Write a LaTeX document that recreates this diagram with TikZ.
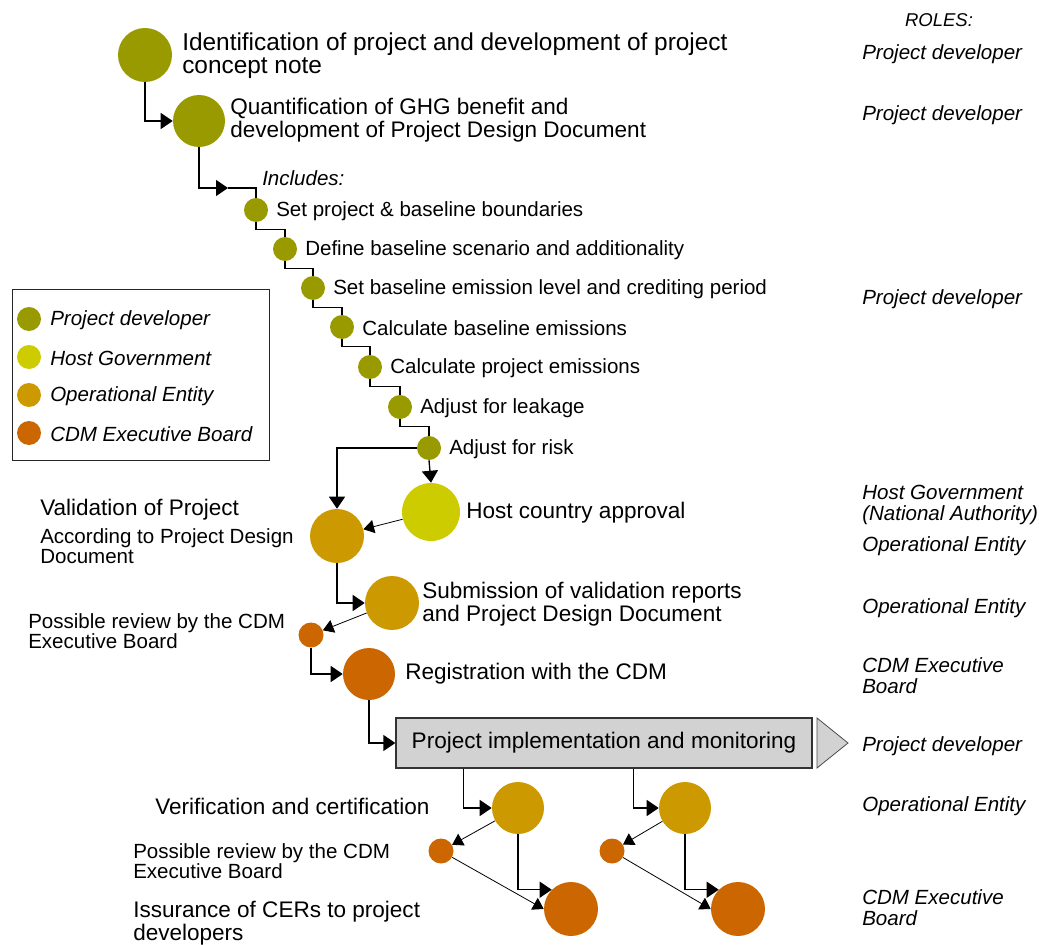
\documentclass[tikz,border=0pt]{standalone}
\usepackage{fontspec}
\setmainfont{Liberation Sans}
\usetikzlibrary{arrows.meta,calc}
\definecolor{pd}{HTML}{999900}
\definecolor{hg}{HTML}{CCCC00}
\definecolor{oe}{HTML}{CC9900}
\definecolor{eb}{HTML}{CC6600}
\definecolor{boxfill}{HTML}{D2D2D2}
\newcommand\fhuge{\fontsize{18.3pt}{17.5pt}\selectfont}
\newcommand\fbig{\fontsize{16.9pt}{17.25pt}\selectfont}
\newcommand\fsmall{\fontsize{15.4pt}{15pt}\selectfont}
\newcommand\frole{\fontsize{15.4pt}{15.75pt}\selectfont\itshape}
\begin{document}
\begin{tikzpicture}[x=0.75pt,y=-0.75pt,
  dot/.style={circle,inner sep=0pt,minimum size=#1},
  lbl/.style={anchor=west,inner sep=0pt,align=left,font=\fbig},
  slbl/.style={anchor=west,inner sep=0pt,align=left,font=\fsmall},
  role/.style={anchor=west,inner sep=0pt,align=left,font=\frole},
  conn/.style={line width=1pt},
  arr/.style={line width=1pt,-{Triangle[length=9pt,width=12pt]}},
  tarr/.style={line width=0.6pt,-{Triangle[length=8pt,width=10pt]}}]
\useasboundingbox (0,0) rectangle (1039,945);

% main circles
\node[dot=40.5pt,fill=pd] (c1) at (145,55) {};
\node[dot=39pt,fill=pd] (c2) at (199,121) {};
\node[lbl,font=\fhuge] (t1) at (182,56) {Identification of project and development of project\\concept note};
\node[lbl] (t2) at (230,120) {Quantification of GHG benefit and\\development of Project Design Document};

% sub steps
\node[slbl,font=\fsmall\itshape] (inc) at (262,178) {Includes:};
\node[dot=18pt,fill=pd] (s1) at (256,210) {};
\node[dot=18pt,fill=pd] (s2) at (285,249) {};
\node[dot=18pt,fill=pd] (s3) at (313,288) {};
\node[dot=18pt,fill=pd] (s4) at (342,327) {};
\node[dot=18pt,fill=pd] (s5) at (370,367) {};
\node[dot=18pt,fill=pd] (s6) at (400,407) {};
\node[dot=18pt,fill=pd] (s7) at (429,448) {};
\node[slbl] (l1) at (276,211) {Set project \& baseline boundaries};
\node[slbl] (l2) at (305,250) {Define baseline scenario and additionality};
\node[slbl] (l3) at (333,289) {Set baseline emission level and crediting period};
\node[slbl] (l4) at (362,328) {Calculate baseline emissions};
\node[slbl] (l5) at (390,368) {Calculate project emissions};
\node[slbl] (l6) at (420,408) {Adjust for leakage};
\node[slbl] (l7) at (449,449) {Adjust for risk};

% validation stage
\node[dot=43.5pt,fill=hg] (host) at (431,512) {};
\node[lbl] (thost) at (466,513) {Host country approval};
\node[dot=40.5pt,fill=oe] (val) at (337,536) {};
\node[lbl] (tval) at (40,510) {Validation of Project};
\node[slbl] (tval2) at (40,546) {According to Project Design\\Document};
\node[dot=40.5pt,fill=oe] (sub) at (392,603) {};
\node[lbl] (tsub) at (422,604) {Submission of validation reports\\and Project Design Document};
\node[dot=18.75pt,fill=eb] (r1) at (311,635) {};
\node[slbl] (tr1) at (28,631) {Possible review by the CDM\\Executive Board};
\node[dot=39pt,fill=eb] (reg) at (369,674) {};
\node[lbl] (treg) at (405,674) {Registration with the CDM};

% implementation box
\node[draw=black!80,line width=1pt,fill=boxfill,minimum width=312pt,minimum height=37.5pt,inner sep=0pt,font=\fbig] (pim) at (604,743) {Project implementation and monitoring};
\draw[fill=boxfill,draw=black!70,line width=0.6pt] (817,718) -- (848,743) -- (817,768) -- cycle;

% verification stage
\node[dot=39pt,fill=oe] (v1) at (518,808) {};
\node[dot=39pt,fill=oe] (v2) at (685,808) {};
\node[dot=18.75pt,fill=eb] (rv1) at (441,851) {};
\node[dot=18.75pt,fill=eb] (rv2) at (612,851) {};
\node[dot=40.5pt,fill=eb] (i1) at (571,909) {};
\node[dot=40.5pt,fill=eb] (i2) at (738,909) {};
\node[lbl] (tver) at (155,806) {Verification and certification};
\node[slbl] (tr2) at (133,861) {Possible review by the CDM\\Executive Board};
\node[lbl] (tiss) at (133,923) {Issurance of CERs to project\\developers};

% legend
\node[draw=black!85,line width=1pt,anchor=north west,minimum width=192.75pt,minimum height=128.25pt,inner sep=0pt] (legend) at (12,289) {};
\node[dot=18pt,fill=pd] (g1) at (29,319) {};
\node[dot=18pt,fill=hg] (g2) at (29,357) {};
\node[dot=18pt,fill=oe] (g3) at (29,395) {};
\node[dot=18pt,fill=eb] (g4) at (29,433) {};
\node[role] (gt1) at (50,320) {Project developer};
\node[role] (gt2) at (50,358) {Host Government};
\node[role] (gt3) at (50,396) {Operational Entity};
\node[role] (gt4) at (50,434) {CDM Executive Board};

% roles column
\node[inner sep=0pt,font=\fontsize{13.9pt}{14pt}\selectfont\itshape] (roles) at (939,20) {ROLES:};
\node[role] (ro1) at (862,54) {Project developer};
\node[role] (ro2) at (862,115) {Project developer};
\node[role] (ro3) at (862,299) {Project developer};
\node[role] (ro4) at (862,505) {Host Government\\(National Authority)};
\node[role] (ro5) at (862,546) {Operational Entity};
\node[role] (ro6) at (862,608) {Operational Entity};
\node[role] (ro7) at (862,676) {CDM Executive\\Board};
\node[role] (ro8) at (862,746) {Project developer};
\node[role] (ro9) at (862,806) {Operational Entity};
\node[role] (ro10) at (862,908) {CDM Executive\\Board};

% connectors
\coordinate (incarr) at (228,188);
\draw[arr] (c1.south) |- (c2.west);
\draw[arr] (c2.south) |- (incarr);
\draw[conn] (incarr) -| (s1.north);
\foreach \a/\b in {s1/s2,s2/s3,s3/s4,s4/s5,s5/s6,s6/s7}
  \draw[conn] (\a.south) -- ++(0,7) -| (\b.north);
\draw[arr] (s7.south) -- (host.north);
\draw[arr] (s7.west) -| (val.north);
\draw[tarr] (host) -- (val);
\draw[arr] (val.south) |- (sub.west);
\draw[tarr] (sub) -- (r1);
\draw[arr] (r1.south) |- (reg.west);
\draw[arr] (reg.south) |- (pim.west);
\draw[arr] ($(pim.south west)+(68,0)$) |- (v1.west);
\draw[arr] ($(pim.south west)+(238,0)$) |- (v2.west);
\draw[tarr] (v1) -- (rv1);
\draw[tarr] (v2) -- (rv2);
\draw[arr] (v1.south) |- (i1.135);
\draw[arr] (v2.south) |- (i2.135);
\draw[tarr] (rv1) -- (i1.west);
\draw[tarr] (rv2) -- (i2.west);
\end{tikzpicture}
\end{document}
